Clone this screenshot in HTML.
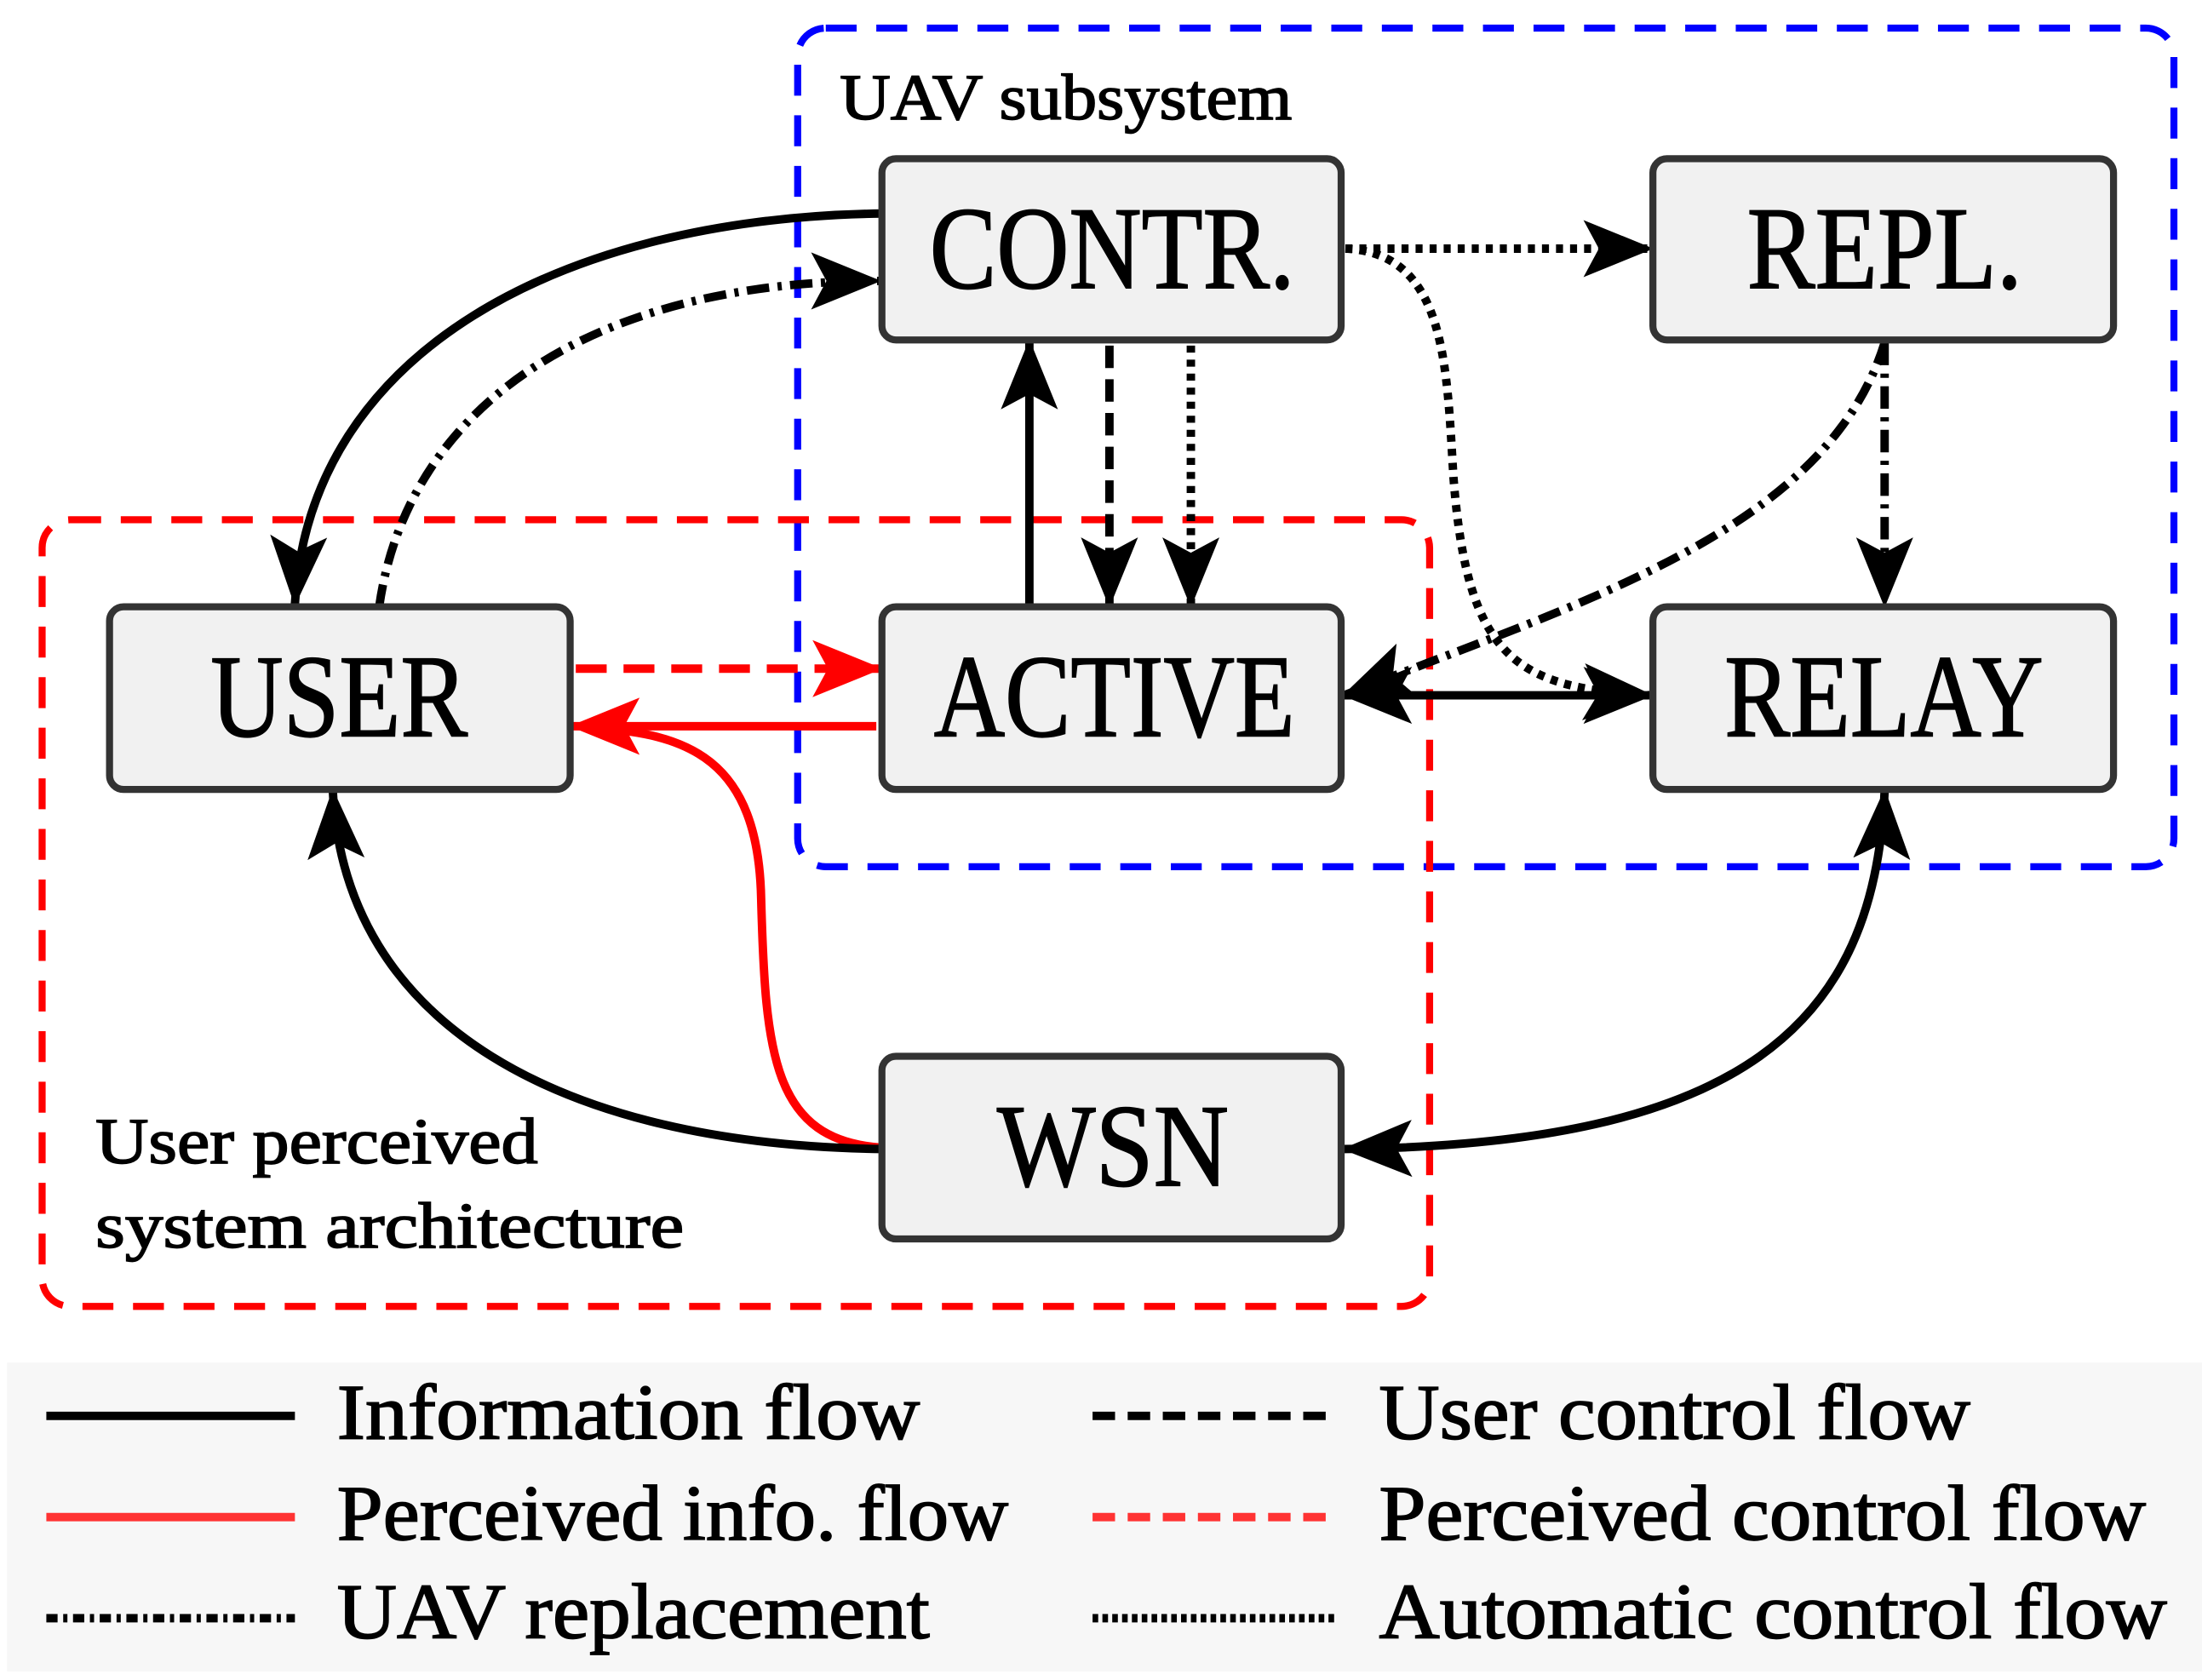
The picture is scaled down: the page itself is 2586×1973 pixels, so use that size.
<!DOCTYPE html>
<html><head><meta charset="utf-8"><style>
html,body{margin:0;padding:0;background:#fff;}
svg{display:block;}
text{font-family:"Liberation Serif",serif;fill:#000;stroke:#000;stroke-width:1;}
</style></head><body>
<svg width="2586" height="1973" viewBox="0 0 1568 1196" preserveAspectRatio="none" xmlns="http://www.w3.org/2000/svg">
<defs>
<marker id="ab" viewBox="0 0 32 32" refX="31" refY="16" markerWidth="50" markerHeight="50" markerUnits="userSpaceOnUse" orient="auto-start-reverse">
<path d="M0,3 L32,16 L0,29 L7,16 Z" fill="#000"/>
</marker>
<marker id="ar" viewBox="0 0 32 32" refX="31" refY="16" markerWidth="50" markerHeight="50" markerUnits="userSpaceOnUse" orient="auto-start-reverse">
<path d="M0,3 L32,16 L0,29 L7,16 Z" fill="#f00"/>
</marker>
</defs>
<rect x="568" y="20" width="980" height="597" rx="20" fill="none" stroke="#00f" stroke-width="5" stroke-dasharray="22,14"/>
<rect x="30" y="370" width="988" height="560" rx="20" fill="none" stroke="#f00" stroke-width="5" stroke-dasharray="22,14"/>
<rect x="5" y="970" width="1563" height="220" fill="#f7f7f7"/>
<g fill="none" stroke-width="6">
<path d="M628,152 C400,155 220,250 210,430" stroke="#000" marker-end="url(#ab)"/>
<path d="M270,432 C290,290 420,200 626,200" stroke="#000" stroke-dasharray="16,6,3,6" marker-end="url(#ab)"/>
<path d="M733,432 L733,243" stroke="#000" marker-end="url(#ab)"/>
<path d="M790,246 L790,431" stroke="#000" stroke-dasharray="16,8" marker-end="url(#ab)"/>
<path d="M848,246 L848,431" stroke="#000" stroke-dasharray="5,5" marker-end="url(#ab)"/>
<path d="M958,177 L1176,177" stroke="#000" stroke-dasharray="5,5" marker-end="url(#ab)"/>
<path d="M958,177 C1030,180 1030,260 1035,340 C1045,470 1080,490 1176,495" stroke="#000" stroke-dasharray="5,5" marker-end="url(#ab)"/>
<path d="M1342,244 L1342,431" stroke="#000" stroke-dasharray="16,6,3,6" marker-end="url(#ab)"/>
<path d="M1342,244 C1300,380 1120,430 957,495" stroke="#000" stroke-dasharray="16,6,3,6" marker-end="url(#ab)"/>
<path d="M957,495 L1176,495" stroke="#000" marker-start="url(#ab)" marker-end="url(#ab)"/>
<path d="M410,476 L627,476" stroke="#f00" stroke-dasharray="22,12" marker-end="url(#ar)"/>
<path d="M624,517 L407,517" stroke="#f00" marker-end="url(#ar)"/>
<path d="M628,817 C550,812 545,750 542,640 C540,540 490,522 420,518" stroke="#f00"/>
<path d="M628,818 C400,815 245,730 237,563" stroke="#000" marker-end="url(#ab)"/>
<path d="M957,818 C1240,815 1335,730 1342,563" stroke="#000" marker-start="url(#ab)" marker-end="url(#ab)"/>
</g>
<g fill="#f1f1f1" stroke="#333" stroke-width="5">
<rect x="628" y="113" width="327" height="129" rx="10"/>
<rect x="1177" y="113" width="328" height="129" rx="10"/>
<rect x="78" y="432" width="328" height="130" rx="10"/>
<rect x="628" y="432" width="327" height="130" rx="10"/>
<rect x="1177" y="432" width="328" height="130" rx="10"/>
<rect x="628" y="752" width="327" height="130" rx="10"/>
</g>
<g font-size="84" style="stroke-width:1.5">
<text x="662" y="205" textLength="260" lengthAdjust="spacingAndGlyphs">CONTR.</text>
<text x="1244" y="205" textLength="196" lengthAdjust="spacingAndGlyphs">REPL.</text>
<text x="150" y="524" textLength="183" lengthAdjust="spacingAndGlyphs">USER</text>
<text x="665" y="524" textLength="257" lengthAdjust="spacingAndGlyphs">ACTIVE</text>
<text x="1228" y="524" textLength="227" lengthAdjust="spacingAndGlyphs">RELAY</text>
<text x="710" y="844" textLength="165" lengthAdjust="spacingAndGlyphs">WSN</text>
</g>
<g font-size="46">
<text x="598" y="85" textLength="322" lengthAdjust="spacingAndGlyphs">UAV subsystem</text>
<text x="68" y="828" textLength="315" lengthAdjust="spacingAndGlyphs">User perceived</text>
<text x="68" y="888" textLength="419" lengthAdjust="spacingAndGlyphs">system architecture</text>
</g>
<g fill="none" stroke-width="6">
<path d="M33,1008 L210,1008" stroke="#000"/>
<path d="M33,1080 L210,1080" stroke="#f33"/>
<path d="M33,1152 L210,1152" stroke="#000" stroke-dasharray="8,4,3,4"/>
<path d="M778,1008 L952,1008" stroke="#000" stroke-dasharray="16,9"/>
<path d="M778,1080 L952,1080" stroke="#f33" stroke-dasharray="16,9"/>
<path d="M778,1152 L952,1152" stroke="#000" stroke-dasharray="4,3"/>
</g>
<g font-size="56">
<text x="240" y="1024" textLength="415" lengthAdjust="spacingAndGlyphs">Information flow</text>
<text x="240" y="1096" textLength="478" lengthAdjust="spacingAndGlyphs">Perceived info. flow</text>
<text x="240" y="1166" textLength="422" lengthAdjust="spacingAndGlyphs">UAV replacement</text>
<text x="982" y="1024" textLength="421" lengthAdjust="spacingAndGlyphs">User control flow</text>
<text x="982" y="1096" textLength="546" lengthAdjust="spacingAndGlyphs">Perceived control flow</text>
<text x="982" y="1166" textLength="561" lengthAdjust="spacingAndGlyphs">Automatic control flow</text>
</g>
</svg>
</body></html>
